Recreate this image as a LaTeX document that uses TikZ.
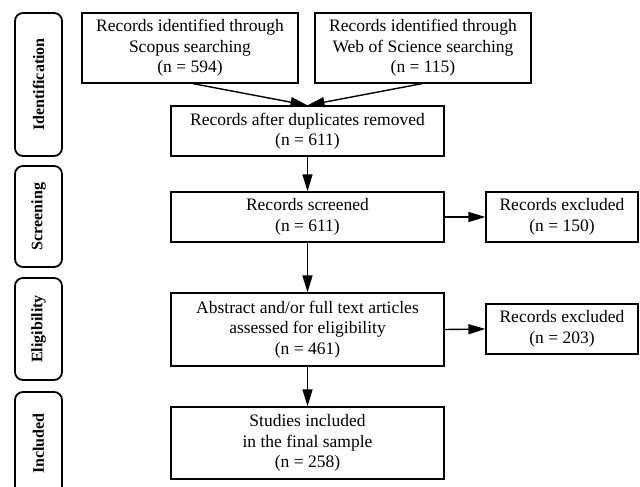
\documentclass[tikz,border=0pt]{standalone}
\usepackage{fontspec}
\setmainfont{Liberation Serif}
\usetikzlibrary{arrows.meta}
\begin{document}
\begin{tikzpicture}[x=1pt,y=-1pt,
  box/.style={draw,line width=1.3pt,align=center,inner sep=0pt,font=\fontsize{17.5}{20.5}\selectfont},
  side/.style={draw,line width=1.8pt,rounded corners=8pt,minimum width=47pt,inner sep=0pt},
  sidetext/.style={rotate=90,font=\fontsize{16}{18}\selectfont\bfseries},
  arr/.style={line width=1.4pt,-{Triangle[length=17pt,width=10pt]}}]
\useasboundingbox (0,0) rectangle (640,487);
\node[box,minimum width=216pt,minimum height=70pt] (scopus) at (190,48) {Records identified through\\Scopus searching\\(n = 594)};
\node[box,minimum width=216pt,minimum height=70pt] (wos) at (423,48) {Records identified through\\Web of Science searching\\(n = 115)};
\node[box,minimum width=273pt,minimum height=50pt] (dup) at (307.5,131) {Records after duplicates removed\\(n = 611)};
\node[box,minimum width=273pt,minimum height=50pt] (scr) at (307.5,217) {Records screened\\(n = 611)};
\node[box,minimum width=152pt,minimum height=50pt] (ex1) at (562,217) {Records excluded\\(n = 150)};
\node[box,minimum width=273pt,minimum height=73pt] (eli) at (307.5,329.5) {Abstract and/or full text articles\\assessed for eligibility\\(n = 461)};
\node[box,minimum width=152pt,minimum height=50pt] (ex2) at (562,329) {Records excluded\\(n = 203)};
\node[box,minimum width=273pt,minimum height=72pt] (inc) at (307.5,443) {Studies included\\in the final sample\\(n = 258)};
\node[side,minimum height=143pt] (sid) at (38.5,84.5) {};
\node[sidetext] (tid) at (sid) {Identification};
\node[side,minimum height=101pt] (ssc) at (38.5,216.5) {};
\node[sidetext] (tsc) at (ssc) {Screening};
\node[side,minimum height=102pt] (sel) at (38.5,329) {};
\node[sidetext] (tel) at (sel) {Eligibility};
\node[side,minimum height=103pt] (sin) at (38.5,443.5) {};
\node[sidetext] (tin) at (sin) {Included};
\draw[arr] ([xshift=3pt]scopus.south) -- (dup.north);
\draw[arr] ([xshift=-1pt]wos.south) -- (dup.north);
\draw[arr] (dup) -- (scr);
\draw[arr] (scr) -- (eli);
\draw[arr] (eli) -- (inc);
\draw[arr] (scr) -- (ex1);
\draw[arr] (eli.east) -- (ex2.west);
\end{tikzpicture}
\end{document}
